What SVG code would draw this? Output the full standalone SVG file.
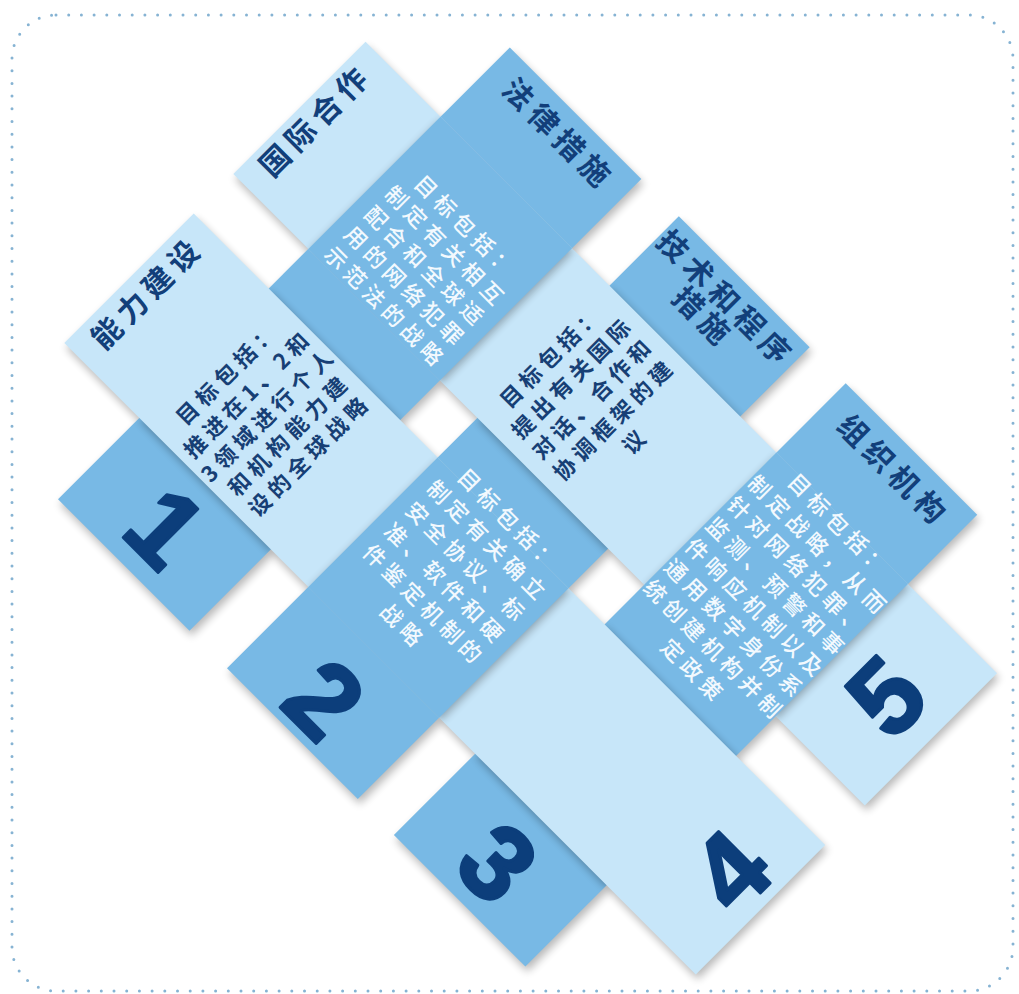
<svg xmlns="http://www.w3.org/2000/svg" width="1019" height="994" viewBox="0 0 1019 994">
<defs>
<style>
.lt{fill:#c7e6f9}
.dk{fill:#78b9e5}
.t{font-family:"Noto Sans CJK SC","Noto Sans CJK TC",sans-serif;text-anchor:middle}
.ttl{font-size:30px;font-weight:700;letter-spacing:6px;fill:#123f7a}
.bl{font-size:22px;font-weight:700;letter-spacing:5px;fill:#173f75}
.bd{font-size:22px;font-weight:500;letter-spacing:5px;fill:#f3f9fe}
.num{font-family:"Liberation Sans",Arial,sans-serif;font-weight:700;font-size:106px;fill:#0c3e7b;stroke:#0c3e7b;stroke-width:3;stroke-linejoin:round;text-anchor:middle}
.sh{fill:#000;opacity:.3}
</style>
<filter id="bl" x="-15%" y="-15%" width="130%" height="130%"><feGaussianBlur stdDeviation="4"/></filter>
<clipPath id="cD1"><rect x="-312" y="394" width="639" height="186"/></clipPath>
<clipPath id="cD2"><rect x="-312" y="633" width="639" height="185"/></clipPath>
<clipPath id="cD3"><rect x="-312" y="869" width="639" height="186"/></clipPath>
<clipPath id="cL1"><rect x="-197" y="288" width="183" height="893"/></clipPath>
<clipPath id="cL2"><rect x="42" y="288" width="187" height="893"/></clipPath>
</defs>
<rect width="1019" height="994" fill="#ffffff"/>
<rect id="frame" x="12" y="15" width="1001" height="976" rx="44" fill="none" stroke="#86b3d3" stroke-width="3" stroke-linecap="round" stroke-dasharray="0 12.7"/>

<g id="outer-shadow" transform="translate(2,5) rotate(-45)" filter="url(#bl)" opacity=".28" fill="#000">
<rect x="-312" y="394" width="639" height="186"/>
<rect x="-312" y="633" width="639" height="185"/>
<rect x="-312" y="869" width="639" height="186"/>
<rect x="-197" y="288" width="183" height="893"/>
<rect x="42" y="288" width="187" height="893"/>
</g>

<g id="weave" transform="rotate(-45)">
<g id="dark-strips" class="dk">
<rect id="strip-legal" x="-312" y="394" width="639" height="186"/>
<rect id="strip-technical" x="-312" y="633" width="639" height="185"/>
<rect id="strip-organizational" x="-312" y="869" width="639" height="186"/>
</g>
<g id="light-over-dark-shadows">
<g clip-path="url(#cD1)"><rect class="sh" x="-198.4" y="396.8" width="183" height="186" filter="url(#bl)"/></g>
<g clip-path="url(#cD2)"><rect class="sh" x="40.6" y="635.8" width="187" height="185" filter="url(#bl)"/></g>
<g clip-path="url(#cD3)"><rect class="sh" x="-198.4" y="871.8" width="183" height="186" filter="url(#bl)"/></g>
</g>
<g id="light-strips" class="lt">
<rect id="strip-capacity" x="-197" y="288" width="183" height="893"/>
<rect id="strip-cooperation" x="42" y="288" width="187" height="893"/>
</g>
<g id="dark-over-light-shadows">
<g clip-path="url(#cL2)"><rect class="sh" x="40.6" y="396.8" width="187" height="186" filter="url(#bl)"/></g>
<g clip-path="url(#cL1)"><rect class="sh" x="-198.4" y="635.8" width="183" height="185" filter="url(#bl)"/></g>
<g clip-path="url(#cL2)"><rect class="sh" x="40.6" y="871.8" width="187" height="186" filter="url(#bl)"/></g>
</g>
<g id="dark-crossings" class="dk">
<rect x="42" y="394" width="187" height="186"/>
<rect x="-197" y="633" width="183" height="185"/>
<rect x="42" y="869" width="187" height="186"/>
</g>
</g>

<g id="node-legal" transform="rotate(45)">
<text class="t ttl" x="490" y="-289">法律措施</text>
<text class="t bd" x="490" y="-161">目标包括：</text>
<text class="t bd" x="490" y="-132.5">制定有关相互</text>
<text class="t bd" x="490" y="-104">配合和全球适</text>
<text class="t bd" x="490" y="-75.5">用的网络犯罪</text>
<text class="t bd" x="490" y="-47">示范法的战略</text>
<text class="num" x="490" y="293">1</text>
</g>

<g id="node-technical" transform="rotate(45)">
<text class="t ttl" x="725" y="-291">技术和程序</text>
<text class="t ttl" x="722" y="-262">措施</text>
<text class="t bd" x="728" y="16">目标包括：</text>
<text class="t bd" x="728" y="46">制定有关确立</text>
<text class="t bd" x="728" y="76">安全协议、标</text>
<text class="t bd" x="728" y="106">准、软件和硬</text>
<text class="t bd" x="728" y="136">件鉴定机制的</text>
<text class="t bd" x="728" y="166">战略</text>
<text class="num" x="724" y="302">2</text>
</g>

<g id="node-organizational" transform="rotate(45)">
<text class="t ttl" x="965" y="-288">组织机构</text>
<text class="t bd" x="965" y="-214">目标包括：</text>
<text class="t bd" x="965" y="-184.5">制定战略，从而</text>
<text class="t bd" x="965" y="-155">针对网络犯罪、</text>
<text class="t bd" x="965" y="-125.5">监测、预警和事</text>
<text class="t bd" x="965" y="-96">件响应机制以及</text>
<text class="t bd" x="965" y="-66.5">通用数字身份系</text>
<text class="t bd" x="965" y="-37">统创建机构并制</text>
<text class="t bd" x="965" y="-7.5">定政策</text>
<text class="num" x="962" y="295">3</text>
</g>

<g id="node-capacity" transform="rotate(-45)">
<text class="t ttl" x="-103" y="322">能力建设</text>
<text class="t bl" x="-103" y="433">目标包括：</text>
<text class="t bl" x="-103" y="462">推进在1、2和</text>
<text class="t bl" x="-103" y="491">3领域进行个人</text>
<text class="t bl" x="-103" y="520">和机构能力建</text>
<text class="t bl" x="-103" y="549">设的全球战略</text>
<text class="num" x="-99" y="1169">4</text>
</g>

<g id="node-cooperation" transform="rotate(-45)">
<text class="t ttl" x="138" y="319">国际合作</text>
<text class="t bl" x="138" y="650">目标包括：</text>
<text class="t bl" x="138" y="680">提出有关国际</text>
<text class="t bl" x="138" y="709">对话、合作和</text>
<text class="t bl" x="138" y="739">协调框架的建</text>
<text class="t bl" x="138" y="769">议</text>
<text class="num" x="134" y="1156">5</text>
</g>
</svg>
